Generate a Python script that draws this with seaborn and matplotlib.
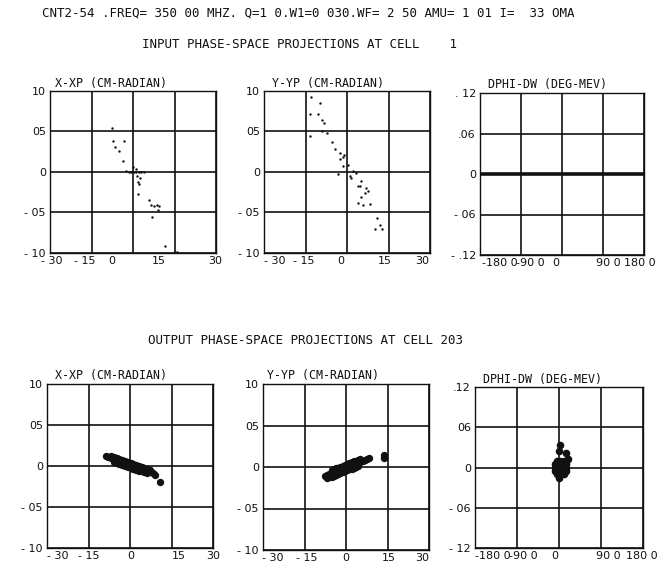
import matplotlib
matplotlib.use("Agg")
import matplotlib.pyplot as plt
import matplotlib.transforms as mtrans
import pandas as pd
import seaborn as sns

# ---------------- text ----------------
HEADER = "CNT2-54 .FREQ= 350 00 MHZ. Q=1 0.W1=0 030.WF= 2 50 AMU= 1 01 I=  33 OMA"
INPUT_TITLE = "INPUT PHASE-SPACE PROJECTIONS AT CELL    1"
OUTPUT_TITLE = "OUTPUT PHASE-SPACE PROJECTIONS AT CELL 203"
panel_titles = ["X-XP (CM-RADIAN)", "Y-YP (CM-RADIAN)", "DPHI-DW (DEG-MEV)"]

# ---------------- ticks ----------------
pos_ticks = [-30, -15, 0, 15, 30]
pos_ticklabels = ["- 30", "- 15", "0", "15", "30"]
ang_ticks = [-10, -5, 0, 5, 10]
ang_ticklabels = ["- 10", "- 05", "0", "05", "10"]
phi_ticks = [-180, -90, 0, 90, 180]
phi_ticklabels = ["-180 0", "-90 0", "0", "90 0", "180 0"]
dw_ticks = [-0.12, -0.06, 0, 0.06, 0.12]
dw_ticklabels_in = ["- .12", "- 06", "0", ".06", ". 12"]
dw_ticklabels_out = ["- 12", "- 06", "0", "06", ".12"]

# ---------------- data: input (cell 1) ----------------
in_x = [-7.5, -7.1, -6.5, -5.2, -3.2, -3.7, 0.1, 1.1,
        -2.5, -1.5, -0.6, 0.2, 1.0, 2.0, 3.0, 4.0,
        1.3, 1.7, 2.5, 2.2, 1.9, 5.8, 6.4, 7.5, 8.7, 9.5, 8.9, 7.0, 11.6, 15.0, 15.8]
in_xp = [5.4, 3.8, 3.1, 2.6, 3.8, 1.4, 0.65, 0.4,
         0.1, 0.05, 0.0, 0.0, -0.05, 0.05, 0.0, -0.05,
         -0.5, -1.2, -0.8, -1.5, -2.7, -3.5, -4.1, -4.2, -4.1, -4.2, -4.7, -5.5, -9.1, -9.9, -9.9]

in_y = [-12.9, -9.9, -13.5, -10.4, -8.9, -8.4, -9.2, -7.4, -13.5, -5.6, -4.4, -2.6,
        -1.6, -2.4, -1.0, -1.4, 0.4, 2.2, 3.4, -3.2, 1.0, 1.6, 4.6, 3.8, 5.2, 7.0,
        4.0, 5.8, 5.2, 6.4, 8.3, 7.6, 10.7, 11.9, 10.1, 12.5]
in_yp = [9.3, 8.5, 7.2, 7.2, 6.4, 6.1, 5.0, 4.8, 4.4, 3.7, 2.9, 2.3,
         1.8, 1.6, 2.1, 0.7, 0.9, 0.1, -0.1, -0.3, -0.5, -0.8, -1.7, -1.7, -1.1, -2.0,
         -3.8, -4.1, -3.1, -2.6, -3.9, -2.3, -5.7, -6.5, -7.0, -7.0]

in_phi = [-180, -165, -150, -135, -120, -105, -90, -75, -60, -45, -30, -15, 0,
          15, 30, 45, 60, 75, 90, 105, 120, 135, 150, 165, 180]
in_dw = [0.0, 0.0, 0.0, 0.0, 0.0, 0.0, 0.0, 0.0, 0.0, 0.0, 0.0, 0.0, 0.0,
         0.0, 0.0, 0.0, 0.0, 0.0, 0.0, 0.0, 0.0, 0.0, 0.0, 0.0, 0.0]

# ---------------- data: output (cell 203) ----------------
out_x = [-8.6, -7.8, -7.0, -6.2, -5.4, -4.6, -3.8, -3.0, -2.2, -1.4, -0.6, 0.2, 1.0, 1.8,
         2.6, 3.4, 4.2, 5.0, 5.8, 6.6, 7.4, 8.2, 9.0,
         -6.8, -5.8, -4.8, -3.8, -2.8, -1.8, -0.8, 0.2, 1.2, 2.2, 3.2, 4.2, 5.2, 6.2, 7.2,
         -5.8, -4.8, -3.8, -2.8, -1.8, -0.8, 0.2, 1.2, 2.2, 3.2, 4.2, 5.2, 6.2,
         10.8]
out_xp = [1.16, 1.07, 0.97, 0.87, 0.78, 0.68, 0.59, 0.49, 0.39, 0.30, 0.20, 0.11, 0.01, -0.09,
          -0.18, -0.28, -0.37, -0.47, -0.57, -0.66, -0.76, -0.85, -1.05,
          1.25, 1.13, 1.01, 0.89, 0.77, 0.65, 0.53, 0.41, 0.29, 0.17, 0.05, -0.07, -0.19, -0.31, -0.43,
          0.53, 0.41, 0.29, 0.17, 0.05, -0.07, -0.19, -0.31, -0.43, -0.55, -0.67, -0.79, -0.91,
          -1.9]

out_y = [-7.6, -6.8, -6.0, -5.2, -4.4, -3.6, -2.8, -2.0, -1.2, -0.4, 0.4, 1.2, 2.0, 2.8,
         3.6, 4.4, 5.2, 6.0, 6.8, 7.6, 8.4,
         -5.2, -4.4, -3.6, -2.8, -2.0, -1.2, -0.4, 0.4, 1.2, 2.0, 2.8, 3.6, 4.4, 5.2,
         -6.8, -6.0, -5.2, -4.4, -3.6, -2.8, -2.0, -1.2, -0.4, 0.4, 1.2, 2.0, 2.8, 3.6, 4.4,
         13.6, 13.9]
out_yp = [-1.09, -0.98, -0.88, -0.77, -0.67, -0.56, -0.45, -0.35, -0.24, -0.13, -0.03, 0.08, 0.19, 0.29,
          0.40, 0.51, 0.61, 0.72, 0.82, 0.93, 1.04,
          -0.39, -0.29, -0.18, -0.07, 0.03, 0.14, 0.25, 0.35, 0.46, 0.57, 0.67, 0.78, 0.89, 0.99,
          -1.36, -1.26, -1.15, -1.05, -0.94, -0.83, -0.73, -0.62, -0.51, -0.41, -0.30, -0.19, -0.09, 0.02, 0.13,
          1.4, 1.05]

out_phi = [-4, 3, 10,
           -9, -3, 3, 9, 15,
           -9, -3, 3, 9, 15,
           -9, -3, 3, 9, 15,
           -4, 3, 10,
           2, 0, 15, 19, 1]
out_dw = [-0.009, -0.009, -0.009,
          -0.0045, -0.0045, -0.0045, -0.0045, -0.0045,
          0.0, 0.0, 0.0, 0.0, 0.0,
          0.0045, 0.0045, 0.0045, 0.0045, 0.0045,
          0.009, 0.009, 0.009,
          0.034, 0.024, 0.022, 0.013, -0.015]

# ---------------- layout (pixels: left, top, right, bottom) ----------------
W, H = 672, 567
boxes = [[(50, 91, 216, 253), (264, 91, 430, 253), (480, 93, 644, 255)],
         [(47, 384, 213, 548), (263, 384, 429, 550), (475, 387, 643, 548)]]
title_dx = [[5, 8, 8], [8, 4, 8]]
xlabel_dx = [[[2, -7, -21, -16, -1], [11, -2, -6, -4, -8], [20, 9, -6, 5, -4]],
             [[11, 0, 1, 7, 0], [10, 2, 0, 1, -7], [18, 6, -4, 7, -1]]]

sns.set_style("white")
plt.rcParams["font.family"] = ["DejaVu Sans"]
FS = 8
HFS = 9
PFS = 8.4
MONO = ["DejaVu Sans Mono"]
INK = "#111111"

fig = plt.figure(figsize=(W / 100, H / 100), dpi=100)
fig.patch.set_facecolor("white")

fig.text(308 / W, 1 - 13 / H, HEADER, ha="center", va="center", fontsize=HFS, color=INK, family=MONO)
fig.text(300 / W, 1 - 45 / H, INPUT_TITLE, ha="center", va="center", fontsize=HFS, color=INK, family=MONO)
fig.text(305 / W, 1 - 341 / H, OUTPUT_TITLE, ha="center", va="center", fontsize=HFS, color=INK, family=MONO)

datasets = [
    [(in_x, in_xp), (in_y, in_yp), (in_phi, in_dw)],
    [(out_x, out_xp), (out_y, out_yp), (out_phi, out_dw)],
]

for r in range(2):
    for c in range(3):
        l, t, rr, b = boxes[r][c]
        ax = fig.add_axes([l / W, 1 - b / H, (rr - l) / W, (b - t) / H])
        xs, ys = datasets[r][c]
        df = pd.DataFrame({"u": xs, "v": ys})
        if c < 2:
            xt, xtl = pos_ticks, pos_ticklabels
            yt, ytl = ang_ticks, ang_ticklabels
            ax.set_xlim(-30, 30)
            ax.set_ylim(-10, 10)
        else:
            xt, xtl = phi_ticks, phi_ticklabels
            yt = dw_ticks
            ytl = dw_ticklabels_in if r == 0 else dw_ticklabels_out
            ax.set_xlim(-180, 180)
            ax.set_ylim(-0.12, 0.12)

        if r == 0 and c == 2:
            sns.lineplot(data=df, x="u", y="v", ax=ax, color=INK, linewidth=2.6, legend=False)
        elif r == 0:
            sns.scatterplot(data=df, x="u", y="v", ax=ax, color=INK, s=3, linewidth=0, legend=False)
        elif c == 2:
            sns.scatterplot(data=df, x="u", y="v", ax=ax, color=INK, s=30, linewidth=0, legend=False)
        else:
            sns.scatterplot(data=df, x="u", y="v", ax=ax, color=INK, s=28, linewidth=0, legend=False)

        ax.set_xticks(xt)
        ax.set_xticklabels(xtl, fontsize=FS, color=INK)
        ax.set_yticks(yt)
        ax.set_yticklabels(ytl, fontsize=FS, color=INK)
        ax.tick_params(length=0, pad=2)
        ax.tick_params(axis="y", pad=3)
        ax.set_xlabel("")
        ax.set_ylabel("")
        ax.grid(True, color=INK, linewidth=1.2)
        ax.set_axisbelow(True)
        for sp in ax.spines.values():
            sp.set_color(INK)
            sp.set_linewidth(1.0)
        for lab, dx in zip(ax.get_xticklabels(), xlabel_dx[r][c]):
            lab.set_transform(lab.get_transform() +
                              mtrans.ScaledTranslation(dx / 100, 0, fig.dpi_scale_trans))

        fig.text((l + title_dx[r][c]) / W, 1 - (t - 8) / H, panel_titles[c],
                 ha="left", va="center", fontsize=PFS, color=INK, family=MONO)

fig.savefig("out.png", dpi=100, facecolor="white")
